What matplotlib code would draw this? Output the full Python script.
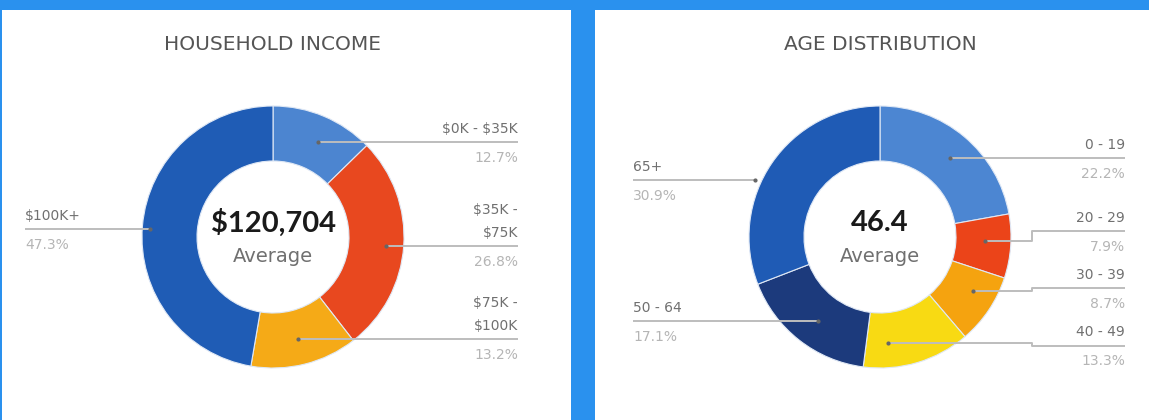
import matplotlib
matplotlib.use("Agg")
import matplotlib.pyplot as plt
from matplotlib.patches import Rectangle

# ---------------- data ----------------
income_title = "HOUSEHOLD INCOME"
income_labels = ["$0K - $35K", "$35K -\n$75K", "$75K -\n$100K", "$100K+"]
income_values = [12.7, 26.8, 13.2, 47.3]
income_colors = ["#4C85D0", "#E8481F", "#F5AA17", "#1F5CB5"]
income_center_value = "$120,704"

age_title = "AGE DISTRIBUTION"
age_labels = ["0 - 19", "20 - 29", "30 - 39", "40 - 49", "50 - 64", "65+"]
age_values = [22.2, 7.9, 8.7, 13.3, 17.1, 30.9]
age_colors = ["#4C86D2", "#EB4419", "#F5A30F", "#F8DA13", "#1C3A7C", "#1F5BB5"]
age_center_value = "46.4"

center_caption = "Average"

# ---------------- figure ----------------
W, H = 1149, 420
fig = plt.figure(figsize=(W / 100, H / 100), dpi=100)
fig.patch.set_facecolor("#2A91EE")
ax = fig.add_axes([0, 0, 1, 1])
ax.axis("off")

# panels
ax.add_patch(Rectangle((2, 10), 569, 420, facecolor="white", edgecolor="none", zorder=0))
ax.add_patch(Rectangle((595, 10), 560, 420, facecolor="white", edgecolor="none", zorder=0))

FONT = "DejaVu Sans"
LBL = "#707070"
PCT = "#b5b5b5"
LINE = "#bdbdbd"


def donut(cx, cy, values, colors):
    wedges, _ = ax.pie(values, colors=colors, center=(cx, cy), radius=131,
                       startangle=-90, counterclock=True,
                       wedgeprops=dict(width=55, edgecolor="#dfe8f5", linewidth=0.8),
                       frame=True)
    for w in wedges:
        w.set_zorder(2)
    return wedges


def leader(xs, ys):
    ax.plot(xs, ys, color=LINE, lw=1.4, zorder=3, solid_capstyle="butt")
    ax.plot([xs[0]], [ys[0]], "o", color="#666666", ms=2, zorder=4)


def label(x, y_line, text, pct, ha):
    lines = text.split("\n")
    for i, t in enumerate(reversed(lines)):
        ax.text(x, y_line - 13 - 23 * i, t, ha=ha, va="center", fontsize=10, color=LBL,
                family=FONT, zorder=5, parse_math=False)
    ax.text(x, y_line + 16, pct, ha=ha, va="center", fontsize=10, color=PCT,
            family=FONT, zorder=5, parse_math=False)


def center_text(cx, value):
    ax.text(cx, 223, value, ha="center", va="center", fontsize=21, fontweight="bold",
            color="#1a1a1a", family="Lato", zorder=5, parse_math=False)
    ax.text(cx, 256, center_caption, ha="center", va="center", fontsize=14, color="#707070",
            family=FONT, zorder=5)


# ---------- left: household income ----------
cxL, cyL = 273, 237
donut(cxL, cyL, income_values, income_colors)
ax.text(cxL, 44, income_title, ha="center", va="center", fontsize=14.5, color="#555555", family=FONT)
center_text(cxL, income_center_value)

leader([318, 518], [142, 142])
label(518, 142, income_labels[0], f"{income_values[0]}%", "right")
leader([386, 518], [246, 246])
label(518, 246, income_labels[1], f"{income_values[1]}%", "right")
leader([298, 518], [339, 339])
label(518, 339, income_labels[2], f"{income_values[2]}%", "right")
leader([150, 25], [229, 229])
label(25, 229, income_labels[3], f"{income_values[3]}%", "left")

# ---------- right: age distribution ----------
cxR, cyR = 880, 237
donut(cxR, cyR, age_values, age_colors)
ax.text(cxR, 44, age_title, ha="center", va="center", fontsize=14.5, color="#555555", family=FONT)
center_text(cxR, age_center_value)

leader([950, 1125], [158, 158])
label(1125, 158, age_labels[0], f"{age_values[0]}%", "right")
leader([985, 1032, 1032, 1125], [241, 241, 231, 231])
label(1125, 231, age_labels[1], f"{age_values[1]}%", "right")
leader([973, 1032, 1032, 1125], [291, 291, 288, 288])
label(1125, 288, age_labels[2], f"{age_values[2]}%", "right")
leader([888, 1032, 1032, 1125], [343, 343, 346, 346])
label(1125, 345, age_labels[3], f"{age_values[3]}%", "right")
leader([818, 633], [321, 321])
label(633, 321, age_labels[4], f"{age_values[4]}%", "left")
leader([755, 633], [180, 180])
label(633, 180, age_labels[5], f"{age_values[5]}%", "left")

# set limits after pie (pie changes them)
ax.set_xlim(0, W)
ax.set_ylim(H, 0)
ax.set_aspect("equal", adjustable="box")
ax.axis("off")

fig.savefig("out.png", dpi=100, facecolor=fig.get_facecolor())
